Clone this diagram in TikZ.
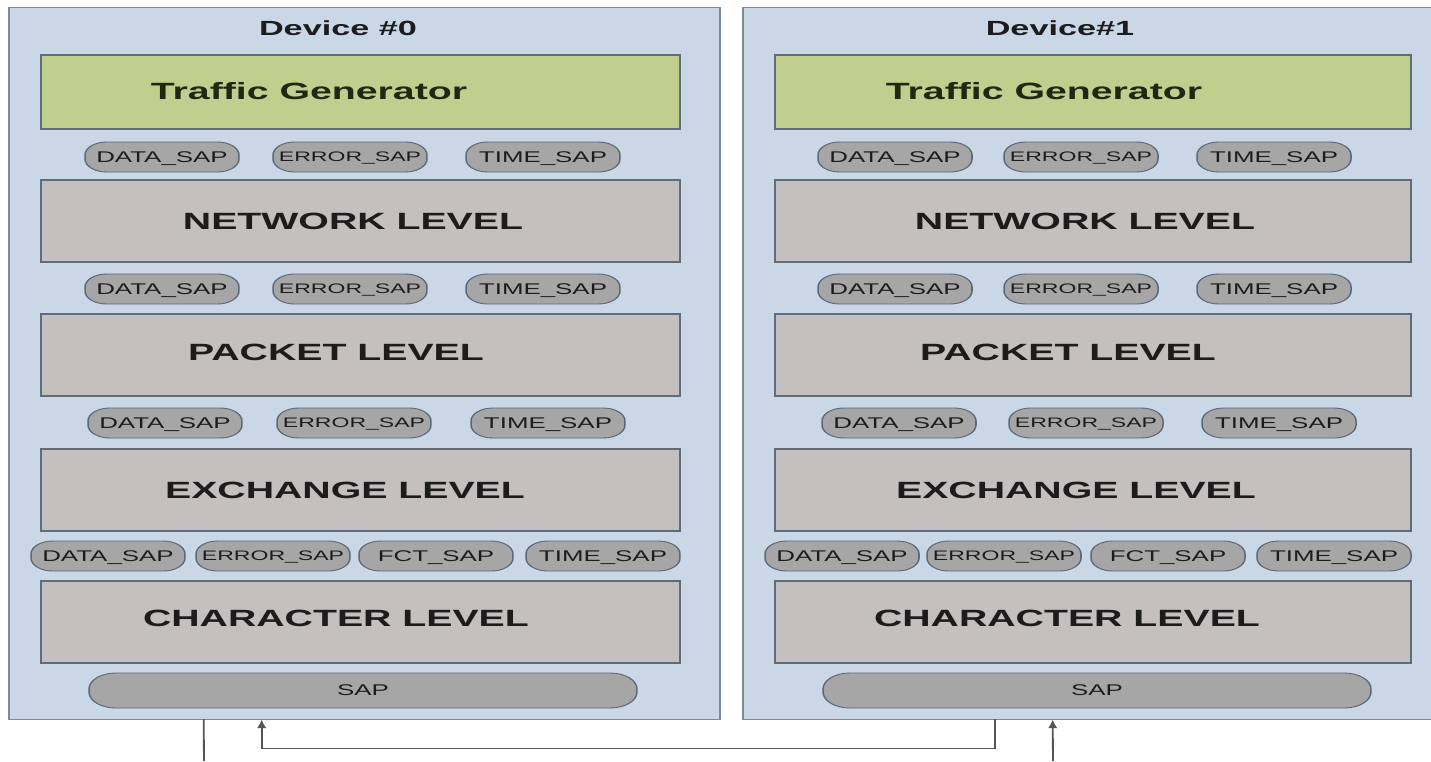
\documentclass[tikz,border=0pt]{standalone}
\usepackage{fontspec}
\setmainfont{Liberation Sans}
\usetikzlibrary{fit,calc,arrows.meta}
\definecolor{devfill}{HTML}{C9D7E7}
\definecolor{devline}{HTML}{7D8A97}
\definecolor{lvlfill}{HTML}{C4C0C0}
\definecolor{lvlline}{HTML}{5F6C7A}
\definecolor{tgfill}{HTML}{BFCF8E}
\definecolor{sapfill}{HTML}{A6A6A6}
\definecolor{sapline}{HTML}{5B6878}
\definecolor{connc}{HTML}{555555}
\definecolor{txt}{HTML}{1C1C1C}
\definecolor{tgtxt}{HTML}{1E2812}
\tikzset{
  device/.style={fill=devfill, draw=none, inner sep=0pt},
  devborder/.style={draw=devline, line width=1.2pt},
  lvl/.style={fill=lvlfill, draw=lvlline, line width=1.2pt, inner sep=0pt},
  tgbox/.style={fill=tgfill, draw=lvlline, line width=1.2pt, inner sep=0pt},
  sap/.style={fill=sapfill, draw=sapline, line width=0.9pt, rounded corners=13pt,
    inner sep=0pt, minimum width=92.2pt, minimum height=30pt,
    text height=10.9pt, text depth=0pt, text=txt, font=\fontsize{15.5}{15.5}\selectfont},
  sapsmall/.style={sap, text height=9.8pt, font=\fontsize{13.8}{13.8}\selectfont},
  bigsap/.style={sap, rounded corners=16pt, minimum width=328.1pt, minimum height=35pt},
  lvltext/.style={inner sep=0pt, text=txt, font=\fontsize{23.5}{23.5}\selectfont\bfseries},
  tgtext/.style={inner sep=0pt, text=tgtxt, font=\fontsize{23.5}{23.5}\selectfont\bfseries},
  titletext/.style={inner sep=0pt, text=txt, font=\fontsize{20.5}{20.5}\selectfont\bfseries},
  conn/.style={draw=connc, line width=1.1pt}
}
\newcommand{\mysap}[5]{\node[#5] (#1) at (#2,#3) {#4};}
\begin{document}
\begin{tikzpicture}[x=1pt,y=-1pt]
\fill[white] (0,0) rectangle (1431,761);
\useasboundingbox (0,0) rectangle (1431,761);
\begin{scope}[x=0.598802pt, transform canvas={xscale=1.67}]
  % devices
  \node[device, fit={(9,8)(720,719)}] (d0) {};
  \draw[devborder] (d0.north west) rectangle (d0.south east);
  \node[device, fit={(743,8)(1431,719)}] (d1) {};
  \draw[devborder] (d1.north east) -- (d1.north west) -- (d1.south west) -- (d1.south east);
  \node[titletext] (t0) at (338,28) {Device \#0};
  \node[titletext] (t1) at (1060,28) {Device\#1};

  % left levels
  \node[tgbox, fit={(41,55)(680,129)}] (tg0) {};
  \node[tgtext] (tgl0) at (309,91) {Traffic Generator};
  \node[lvl, fit={(41,180)(680,262)}] (net0) {};
  \node[lvltext] (netl0) at (353,221) {NETWORK LEVEL};
  \node[lvl, fit={(41,314)(680,396)}] (pkt0) {};
  \node[lvltext] (pktl0) at (336,352) {PACKET LEVEL};
  \node[lvl, fit={(41,449)(680,531)}] (exc0) {};
  \node[lvltext] (excl0) at (345,490) {EXCHANGE LEVEL};
  \node[lvl, fit={(41,581)(680,663)}] (chr0) {};
  \node[lvltext] (chrl0) at (336,618) {CHARACTER LEVEL};

  % right levels
  \node[tgbox, fit={(775,55)(1411,129)}] (tg1) {};
  \node[tgtext] (tgl1) at (1044,91) {Traffic Generator};
  \node[lvl, fit={(775,180)(1411,262)}] (net1) {};
  \node[lvltext] (netl1) at (1085,221) {NETWORK LEVEL};
  \node[lvl, fit={(775,314)(1411,396)}] (pkt1) {};
  \node[lvltext] (pktl1) at (1068,352) {PACKET LEVEL};
  \node[lvl, fit={(775,449)(1411,531)}] (exc1) {};
  \node[lvltext] (excl1) at (1076,490) {EXCHANGE LEVEL};
  \node[lvl, fit={(775,581)(1411,663)}] (chr1) {};
  \node[lvltext] (chrl1) at (1067,618) {CHARACTER LEVEL};

  % SAP rows, left
  \mysap{a1}{162}{157}{DATA\_SAP}{sap}
  \mysap{a2}{350}{157}{ERROR\_SAP}{sapsmall}
  \mysap{a3}{543}{157}{TIME\_SAP}{sap}
  \mysap{b1}{162}{289}{DATA\_SAP}{sap}
  \mysap{b2}{350}{289}{ERROR\_SAP}{sapsmall}
  \mysap{b3}{543}{289}{TIME\_SAP}{sap}
  \mysap{c1}{165}{423}{DATA\_SAP}{sap}
  \mysap{c2}{354}{423}{ERROR\_SAP}{sapsmall}
  \mysap{c3}{548}{423}{TIME\_SAP}{sap}
  \mysap{e1}{108}{556}{DATA\_SAP}{sap}
  \mysap{e2}{273}{556}{ERROR\_SAP}{sapsmall}
  \mysap{e3}{436}{556}{FCT\_SAP}{sap}
  \mysap{e4}{603}{556}{TIME\_SAP}{sap}
  \node[bigsap] (s0) at (363,690.5) {SAP};

  % SAP rows, right
  \mysap{f1}{895}{157}{DATA\_SAP}{sap}
  \mysap{f2}{1081}{157}{ERROR\_SAP}{sapsmall}
  \mysap{f3}{1274}{157}{TIME\_SAP}{sap}
  \mysap{g1}{895}{289}{DATA\_SAP}{sap}
  \mysap{g2}{1081}{289}{ERROR\_SAP}{sapsmall}
  \mysap{g3}{1274}{289}{TIME\_SAP}{sap}
  \mysap{h1}{899}{423}{DATA\_SAP}{sap}
  \mysap{h2}{1086}{423}{ERROR\_SAP}{sapsmall}
  \mysap{h3}{1279}{423}{TIME\_SAP}{sap}
  \mysap{k1}{842}{556}{DATA\_SAP}{sap}
  \mysap{k2}{1004}{556}{ERROR\_SAP}{sapsmall}
  \mysap{k3}{1168}{556}{FCT\_SAP}{sap}
  \mysap{k4}{1334}{556}{TIME\_SAP}{sap}
  \node[bigsap] (s1) at (1097,690.5) {SAP};

  % connectors
  \coordinate (outL) at (204,761);
  \coordinate (inR) at (1053,761);
  \draw[conn] ($(d0.south west)+(195,0)$) -- (outL);
  \draw[conn, -{Latex[length=9pt,width=5.5pt]}] ($(d1.south west)+(252,0)$) -- ++(0,29) -| ($(d0.south west)+(253,0)$);
  \draw[conn, -{Latex[length=9pt,width=5.5pt]}] (inR) -- ($(d1.south west)+(310,0)$);
\end{scope}
\end{tikzpicture}
\end{document}
